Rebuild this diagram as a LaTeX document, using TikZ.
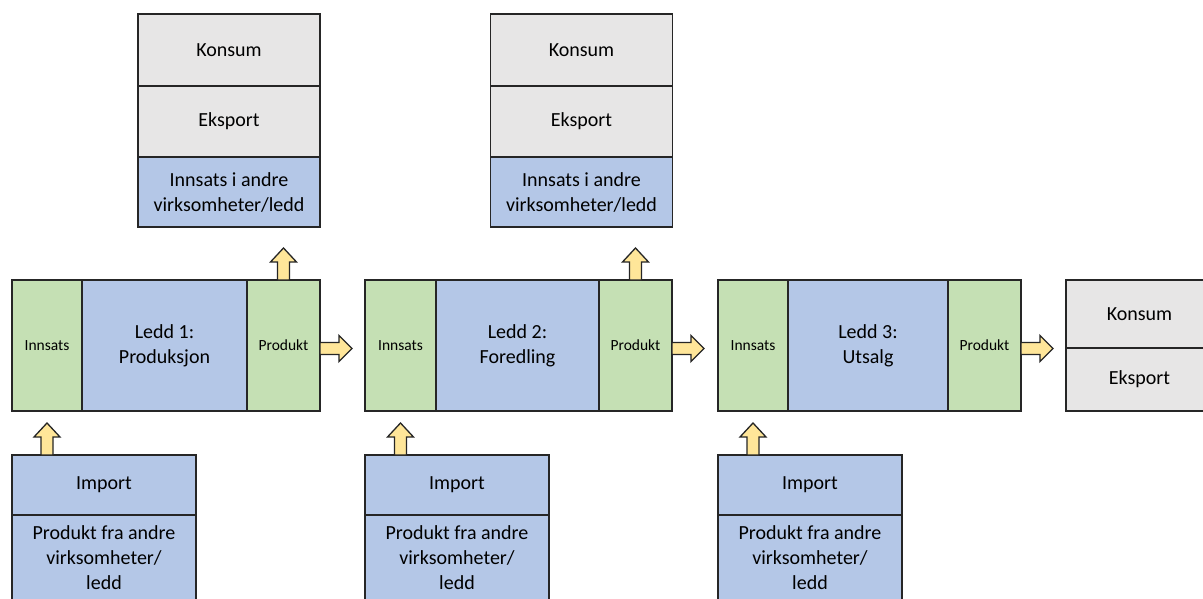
\documentclass[tikz,border=0pt]{standalone}
\usepackage{fontspec}
\setmainfont{Carlito}
\usetikzlibrary{calc}
\usetikzlibrary{positioning}

\definecolor{insgreen}{HTML}{C5E0B4}
\definecolor{leddblue}{HTML}{B4C7E7}
\definecolor{salgray}{HTML}{E7E6E6}
\definecolor{arryellow}{HTML}{FFE699}

\tikzset{
  box/.style={draw=black!85, line width=1.3pt, inner sep=2pt, outer sep=0pt, align=center, font=\fontsize{20}{25}\selectfont},
  greenbox/.style={box, fill=insgreen, font=\fontsize{15.5}{19}\selectfont, minimum height=131pt},
  bluebox/.style={box, fill=leddblue},
  graybox/.style={box, fill=salgray},
  blockarr/.style={draw=black!85, line width=1.3pt, fill=arryellow, line join=miter}
}

\newcommand{\uparr}[1]{\draw[blockarr] #1 ++(-6,0) -- ++(0,-18) -- ++(-7,0) -- ++(13,-14) -- ++(13,14) -- ++(-7,0) -- ++(0,18) -- cycle;}
\newcommand{\rarr}[1]{\draw[blockarr] #1 ++(0,-6) -- ++(19,0) -- ++(0,-7) -- ++(13,13) -- ++(-13,13) -- ++(0,-7) -- ++(-19,0) -- cycle;}

\begin{document}
\begin{tikzpicture}[x=1pt,y=-1pt]
\useasboundingbox (0,0) rectangle (1203,599);
\fill[white] (0,0) rectangle (1203,599);

\node[greenbox, minimum width=70pt] (ins1) at (47,345.5) {Innsats};
\node[bluebox, minimum width=165pt, minimum height=131pt, right=0pt of ins1] (led1) {Ledd 1:\\Produksjon};
\node[greenbox, minimum width=73pt, right=0pt of led1] (pro1) {Produkt};
\node[graybox, minimum width=182pt, minimum height=72pt] (kon1) at (229,50) {Konsum};
\node[graybox, minimum width=182pt, minimum height=71pt, below=0pt of kon1] (eks1) {Eksport};
\node[bluebox, minimum width=182pt, minimum height=70pt, below=0pt of eks1] (inn1) {Innsats i andre\\virksomheter/ledd};
\node[bluebox, minimum width=184pt, minimum height=60pt] (imp1) at (104,485) {Import};
\node[bluebox, minimum width=184pt, minimum height=86pt, below=0pt of imp1] (pfa1) {Produkt fra andre\\virksomheter/\\ledd};
\uparr{(pro1.north)}
\uparr{(ins1 |- imp1.north)}
\rarr{([yshift=-3pt]pro1.east)}

\node[greenbox, minimum width=71pt] (ins2) at (400.5,345.5) {Innsats};
\node[bluebox, minimum width=163pt, minimum height=131pt, right=0pt of ins2] (led2) {Ledd 2:\\Foredling};
\node[greenbox, minimum width=73pt, right=0pt of led2] (pro2) {Produkt};
\node[graybox, minimum width=182pt, minimum height=72pt] (kon2) at (581.5,50) {Konsum};
\node[graybox, minimum width=182pt, minimum height=71pt, below=0pt of kon2] (eks2) {Eksport};
\node[bluebox, minimum width=182pt, minimum height=70pt, below=0pt of eks2] (inn2) {Innsats i andre\\virksomheter/ledd};
\node[bluebox, minimum width=184pt, minimum height=60pt] (imp2) at (457,485) {Import};
\node[bluebox, minimum width=184pt, minimum height=86pt, below=0pt of imp2] (pfa2) {Produkt fra andre\\virksomheter/\\ledd};
\uparr{(pro2.north)}
\uparr{(ins2 |- imp2.north)}
\rarr{([yshift=-3pt]pro2.east)}

\node[greenbox, minimum width=70pt] (ins3) at (753,345.5) {Innsats};
\node[bluebox, minimum width=160pt, minimum height=131pt, right=0pt of ins3] (led3) {Ledd 3:\\Utsalg};
\node[greenbox, minimum width=73pt, right=0pt of led3] (pro3) {Produkt};
\node[bluebox, minimum width=184pt, minimum height=60pt] (imp3) at (810,485) {Import};
\node[bluebox, minimum width=184pt, minimum height=86pt, below=0pt of imp3] (pfa3) {Produkt fra andre\\virksomheter/\\ledd};
\uparr{(ins3 |- imp3.north)}
\rarr{([yshift=-3pt]pro3.east)}

\node[graybox, minimum width=147pt, minimum height=68pt] (kon4) at (1139.5,314) {Konsum};
\node[graybox, minimum width=147pt, minimum height=63pt, below=0pt of kon4] (eks4) {Eksport};
\end{tikzpicture}
\end{document}
